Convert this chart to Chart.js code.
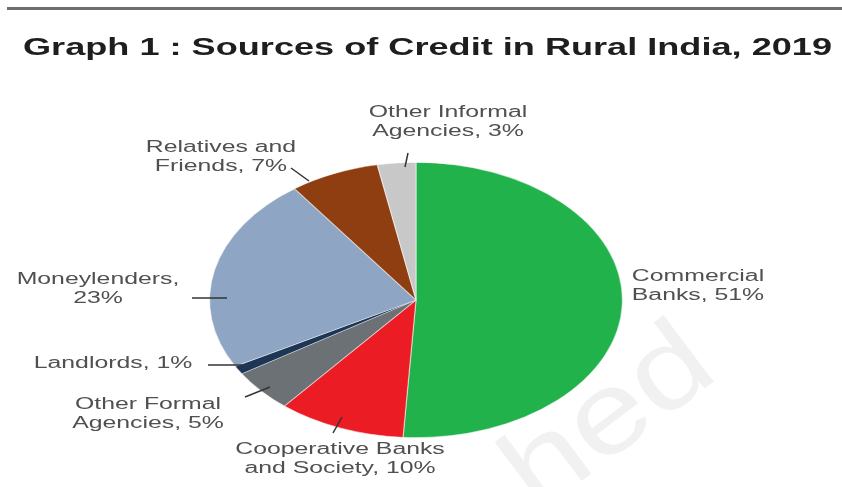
<!DOCTYPE html>
<html>
<head>
<meta charset="utf-8">
<script src="https://cdn.jsdelivr.net/npm/chart.js@4.4.1/dist/chart.umd.min.js"></script>
<style>
    html, body { margin: 0; padding: 0; background: #fff; }
    #wrap { width: 842px; height: 487px; }
</style>
</head>
<body>
<div id="wrap"><canvas id="chartPie" width="842" height="487"></canvas></div>
<script>
// Graph 1 data
const titleText = 'Graph 1 : Sources of Credit in Rural India, 2019';
const categories = [
    'Commercial Banks',
    'Cooperative Banks and Society',
    'Other Formal Agencies',
    'Landlords',
    'Moneylenders',
    'Relatives and Friends',
    'Other Informal Agencies'
];
const shares = [51, 10, 5, 1, 23, 7, 3];
const sliceColors = ['#22b24c', '#ec1c24', '#6c7175', '#1e3656', '#8fa5c4', '#8e3e10', '#c8c8c8'];

// label layout: centre x, first line y, word index where line 2 starts, leader line
const labelLayout = [
    { x: 698, y: 277, br: 1, lead: null },
    { x: 340, y: 450, br: 2, lead: [333, 433, 342, 417] },
    { x: 148, y: 405, br: 2, lead: [245, 397, 270, 387] },
    { x: 113, y: 364, br: 0, lead: [208, 365, 244, 365] },
    { x: 98,  y: 280, br: 1, lead: [192, 298, 227, 298] },
    { x: 221, y: 148, br: 2, lead: [291, 168, 309, 181] },
    { x: 448, y: 113, br: 2, lead: [408, 153, 405, 167] }
];

const SX = 1.5;      // the original picture is stretched sideways
const TEXT_SX = 1.55;

function stretchedText(ctx, txt, x, y, sx) {
    ctx.save();
    ctx.translate(x, y);
    ctx.scale(sx, 1);
    ctx.fillText(txt, 0, 0);
    ctx.restore();
}

const stretchPie = {
    id: 'stretchPie',
    beforeDraw(chart) {
        const ctx = chart.ctx;
        // top rule
        ctx.save();
        ctx.fillStyle = '#6e6e6e';
        ctx.fillRect(7, 7, 835, 3);
        // faint watermark
        ctx.translate(610, 420);
        ctx.rotate(-37 * Math.PI / 180);
        ctx.scale(1.2, 1);
        ctx.font = '115px "Liberation Sans", Arial, sans-serif';
        ctx.fillStyle = '#f1f1f1';
        ctx.textAlign = 'center';
        ctx.textBaseline = 'middle';
        ctx.fillText('hed', 0, 0);
        ctx.restore();
    },
    beforeDatasetsDraw(chart) {
        const arc = chart.getDatasetMeta(0).data[0];
        const ctx = chart.ctx;
        ctx.save();
        ctx.translate(arc.x, arc.y);
        ctx.scale(SX, 1);
        ctx.translate(-arc.x, -arc.y);
    },
    afterDatasetsDraw(chart) {
        const ctx = chart.ctx;
        ctx.restore();

        // title
        ctx.save();
        ctx.font = 'bold 23px "Liberation Sans", Arial, sans-serif';
        ctx.fillStyle = '#1e1e1e';
        ctx.textBaseline = 'alphabetic';
        const w = ctx.measureText(titleText).width;
        stretchedText(ctx, titleText, 23, 55, 809 / w);
        ctx.restore();

        // labels and leader lines
        ctx.save();
        ctx.font = '16px "Liberation Sans", Arial, sans-serif';
        ctx.fillStyle = '#505050';
        ctx.textAlign = 'center';
        ctx.textBaseline = 'middle';
        ctx.strokeStyle = '#333';
        ctx.lineWidth = 1.5;
        categories.forEach((cat, i) => {
            const lay = labelLayout[i];
            const words = `${cat}, ${shares[i]}%`.split(' ');
            const lines = lay.br ? [words.slice(0, lay.br).join(' '), words.slice(lay.br).join(' ')] : [words.join(' ')];
            lines.forEach((ln, j) => stretchedText(ctx, ln, lay.x, lay.y + j * 19, TEXT_SX));
            if (lay.lead) {
                ctx.beginPath();
                ctx.moveTo(lay.lead[0], lay.lead[1]);
                ctx.lineTo(lay.lead[2], lay.lead[3]);
                ctx.stroke();
            }
        });
        ctx.restore();
    }
};

new Chart(document.getElementById('chartPie').getContext('2d'), {
    type: 'pie',
    data: {
        labels: categories,
        datasets: [{
            data: shares,
            backgroundColor: sliceColors,
            borderColor: 'rgba(255,255,255,0.5)',
            borderWidth: 0.8
        }]
    },
    options: {
        responsive: false,
        animation: false,
        devicePixelRatio: 1,
        layout: { padding: { top: 162, bottom: 49, left: 216, right: 226 } },
        plugins: {
            legend: { display: false },
            tooltip: { enabled: false },
            title: { display: false }
        }
    },
    plugins: [stretchPie]
});
</script>
</body>
</html>
